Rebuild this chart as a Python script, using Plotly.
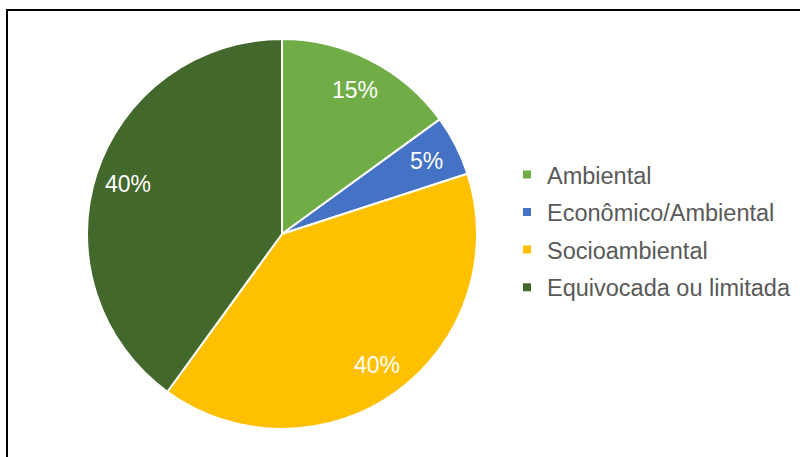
import math
import plotly.graph_objects as go

categories = ["Ambiental", "Econômico/Ambiental", "Socioambiental", "Equivocada ou limitada"]
values = [15, 5, 40, 40]
colors = ["#70AD47", "#4472C4", "#FFC000", "#43682B"]

W, H = 800, 457

# pie placement (pixels)
CX, CY, R = 282, 234, 195
dom_x = [(CX - R) / W, (CX + R) / W]
dom_y = [1 - (CY + R) / H, 1 - (CY - R) / H]

fig = go.Figure()

fig.add_trace(go.Pie(
    labels=categories,
    values=values,
    sort=False,
    direction="clockwise",
    rotation=0,
    marker=dict(colors=colors, line=dict(color="white", width=2)),
    textinfo="none",
    showlegend=False,
    hoverinfo="label+percent",
    domain=dict(x=dom_x, y=dom_y),
))

# percentage labels placed at slice mid-angles, computed from the values
total = sum(values)
cum = 0
annotations = []
for v in values:
    mid = (cum + v / 2) / total * 2 * math.pi
    cum += v
    px = CX + 0.83 * R * math.sin(mid)
    py = CY - 0.83 * R * math.cos(mid)
    annotations.append(dict(
        x=px / W, y=1 - py / H, xref="paper", yref="paper",
        text=f"{round(v / total * 100)}%", showarrow=False,
        font=dict(family="Liberation Sans, Arial, sans-serif", size=23, color="white"),
        xanchor="center", yanchor="middle",
    ))

# legend entries (one per category)
for cat, col in zip(categories, colors):
    fig.add_trace(go.Scatter(
        x=[None], y=[None], mode="markers", name=cat,
        legendgroup=cat,
        marker=dict(symbol="square", size=8, color=col),
        showlegend=True,
    ))

fig.update_layout(
    width=W, height=H,
    margin=dict(l=0, r=0, t=0, b=0),
    paper_bgcolor="white",
    plot_bgcolor="white",
    xaxis=dict(visible=False),
    yaxis=dict(visible=False),
    showlegend=True,
    annotations=annotations,
    legend=dict(
        x=507 / W, y=1 - 171 / H + 0.04,
        xanchor="left", yanchor="top",
        font=dict(family="Liberation Sans, Arial, sans-serif", size=23.5, color="#595959"),
        tracegroupgap=4,
        bgcolor="rgba(0,0,0,0)",
        itemsizing="trace",
    ),
    shapes=[
        dict(type="path", xref="paper", yref="paper",
             path=f"M {7/W},0 L {7/W},{1-10/H} L 1,{1-10/H}",
             line=dict(color="black", width=2)),
    ],
)

fig.write_html(
    "out.html",
    config={"displayModeBar": False},
    post_script="document.body.style.margin='0';document.body.style.overflow='hidden';",
)
